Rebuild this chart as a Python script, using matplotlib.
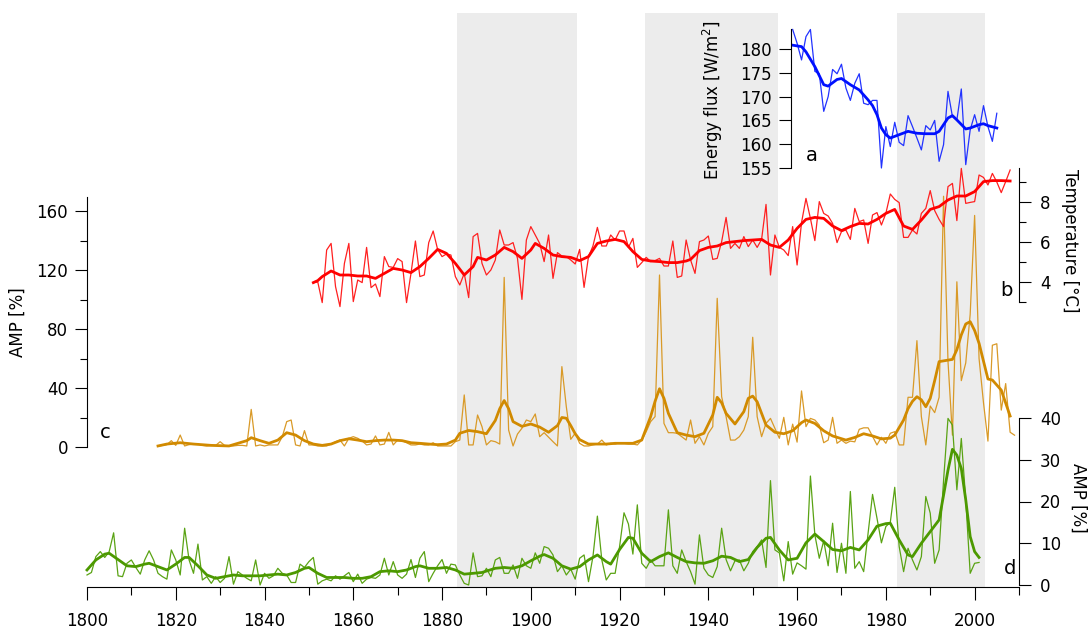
import numpy as np
import matplotlib
matplotlib.use('Agg')
from matplotlib import pyplot as plt
from matplotlib.ticker import MultipleLocator

# (a) energy flux, annual values and smoothed curve
flux_years = np.arange(1959, 2006)
flux = [184.1, 181.2, 177.7, 182.6, 184.1, 175.3, 174.8, 166.9, 170.0, 175.7,
        174.8, 176.8, 171.8, 169.2, 172.8, 174.8, 168.6, 168.3, 169.2, 169.2,
        155.0, 163.7, 159.5, 164.6, 160.4, 159.7, 166.0, 163.7, 161.3, 158.8,
        163.9, 163.0, 165.0, 156.4, 159.9, 171.1, 165.8, 165.1, 171.6, 155.7,
        163.0, 166.2, 162.7, 168.1, 163.7, 160.6, 166.5]
flux_sm_years = [1959, 1961, 1962, 1964, 1966, 1967, 1969, 1970, 1972, 1974,
                 1976, 1977, 1978, 1979, 1980, 1981, 1983, 1985, 1987, 1989,
                 1991, 1992, 1994, 1995, 1996, 1998, 1999, 2001, 2002, 2003, 2005]
flux_sm = [180.8, 180.5, 179.4, 176.3, 172.5, 172.2, 173.6, 173.8, 172.5, 171.4,
           169.3, 168.1, 166.2, 163.4, 162.0, 161.3, 162.0, 162.7, 162.3, 162.2,
           162.2, 162.7, 165.5, 166.0, 165.1, 163.2, 163.4, 164.1, 164.3, 163.9, 163.4]

# (b) temperature
temp_years = np.arange(1851, 2009)
temp = [3.97, 4.0, 2.97, 5.6, 5.93, 3.77, 2.77, 4.93, 5.93, 3.02,
        4.1, 3.97, 5.73, 3.72, 3.9, 3.27, 5.27, 4.77, 4.73, 5.17,
        5.02, 2.97, 4.43, 6.05, 4.27, 4.35, 5.97, 6.55, 5.63, 5.27,
        5.4, 5.35, 4.27, 3.85, 4.43, 3.22, 6.27, 6.43, 4.93, 4.35,
        4.6, 5.1, 6.6, 5.85, 5.85, 5.97, 5.18, 3.13, 6.1, 6.77,
        6.35, 5.93, 5.02, 6.35, 4.18, 5.47, 5.3, 5.27, 5.1, 4.9,
        5.63, 3.73, 5.27, 5.8, 6.73, 5.8, 5.8, 6.35, 6.1, 6.55,
        6.55, 5.73, 6.18, 4.73, 4.97, 5.23, 5.02, 5.07, 5.18, 4.8,
        4.8, 6.05, 4.23, 4.3, 6.1, 5.1, 4.43, 6.02, 6.1, 6.3,
        5.13, 5.18, 6.02, 7.23, 5.68, 5.93, 5.68, 6.27, 5.77, 6.1,
        5.73, 6.13, 7.88, 4.35, 6.35, 5.73, 5.6, 5.32, 6.77, 4.85,
        6.97, 8.18, 7.18, 6.07, 8.02, 7.43, 7.3, 6.93, 5.97, 6.52,
        6.6, 6.13, 7.68, 7.02, 7.1, 5.93, 7.35, 7.47, 6.85, 7.43,
        8.4, 8.13, 7.97, 6.23, 6.23, 6.6, 6.4, 7.43, 7.68, 8.57,
        7.57, 7.13, 6.77, 8.77, 8.93, 7.07, 9.68, 7.93, 7.98, 8.02,
        9.35, 9.23, 8.85, 9.43, 9.0, 8.47, 9.02, 9.6]
temp_sm_years = [1851, 1852, 1853, 1855, 1857, 1859, 1861, 1863, 1865, 1867,
                 1869, 1871, 1873, 1875, 1877, 1879, 1881, 1883, 1885, 1887,
                 1888, 1890, 1892, 1894, 1896, 1898, 1900, 1901, 1903, 1905,
                 1907, 1909, 1911, 1913, 1915, 1917, 1919, 1921, 1923, 1925,
                 1927, 1929, 1931, 1933, 1935, 1936, 1938, 1940, 1942, 1944,
                 1946, 1948, 1950, 1952, 1954, 1956, 1958, 1960, 1962, 1964,
                 1966, 1968, 1970, 1972, 1974, 1976, 1978, 1980, 1982, 1984,
                 1986, 1988, 1990, 1992, 1994, 1996, 1998, 2000, 2002, 2004,
                 2006, 2008]
temp_sm = [3.97, 4.07, 4.27, 4.55, 4.35, 4.35, 4.3, 4.3, 4.18, 4.43,
           4.68, 4.6, 4.47, 4.77, 5.18, 5.63, 5.43, 4.93, 4.35, 4.77,
           5.23, 5.1, 5.35, 5.73, 5.52, 5.18, 5.6, 5.93, 5.68, 5.35,
           5.27, 5.23, 5.07, 5.27, 5.93, 6.05, 6.13, 6.02, 5.52, 5.13,
           5.05, 5.02, 4.97, 4.97, 5.05, 5.13, 5.57, 5.73, 5.8, 5.97,
           6.02, 6.07, 6.1, 6.13, 5.85, 5.73, 6.1, 6.68, 7.13, 7.23,
           7.18, 6.8, 6.57, 6.77, 6.93, 6.9, 7.13, 7.43, 7.63, 6.8,
           6.63, 7.1, 7.63, 7.77, 8.1, 8.3, 8.3, 8.52, 9.02, 9.07,
           9.07, 9.05]

# (c) AMP, left scale
amp_c_years = np.arange(1816, 2010)
amp_c = [0.7, 1.1, 1.6, 4.3, 1.1, 8.1, 0.7, 1.6, 2.0, 2.0,
         1.1, 0.7, 1.1, 1.1, 3.6, 1.1, 0.7, 0.7, 1.1, 1.1,
         0.7, 25.5, 0.7, 1.4, 0.7, 1.4, 1.4, 1.4, 7.0, 17.2,
         18.3, 1.4, 0.7, 11.1, 1.4, 1.4, 0.7, 0.7, 0.7, 2.0,
         3.6, 4.7, 0.7, 5.9, 7.0, 5.9, 4.1, 1.4, 2.0, 7.5,
         1.4, 2.0, 9.9, 1.4, 4.7, 4.3, 2.9, 1.4, 1.4, 2.0,
         1.4, 1.4, 2.9, 0.7, 0.7, 0.7, 0.7, 3.6, 4.7, 35.3,
         1.4, 1.4, 21.7, 13.8, 1.4, 4.3, 3.6, 2.0, 115.0, 11.5,
         0.7, 8.8, 12.7, 18.3, 17.2, 22.4, 7.0, 9.7, 6.6, 3.6,
         0.7, 54.5, 27.3, 5.2, 9.3, 2.5, 0.7, 0.7, 1.4, 2.0,
         4.7, 1.4, 2.5, 2.0, 2.9, 2.5, 2.0, 2.0, 1.4, 4.7,
         10.4, 17.2, 20.6, 116.6, 16.0, 9.7, 9.7, 9.3, 7.0, 4.7,
         18.3, 2.5, 7.0, 1.4, 9.3, 13.8, 100.8, 34.1, 20.6, 4.7,
         4.7, 7.0, 11.5, 20.6, 74.4, 20.6, 7.0, 16.0, 19.4, 12.7,
         5.9, 20.1, 1.4, 15.5, 3.3, 38.0, 13.8, 19.4, 18.3, 14.9,
         2.9, 4.7, 20.1, 2.5, 4.7, 2.5, 4.0, 3.5, 12.0, 13.0,
         13.0, 7.2, 1.4, 6.6, 2.5, 9.3, 10.4, 1.4, 1.4, 33.7,
         33.7, 72.1, 20.6, 1.4, 27.8, 23.3, 33.7, 170.0, 58.0, 8.0,
         112.0, 45.0, 57.0, 90.0, 157.0, 60.0, 30.0, 4.0, 69.0, 70.0,
         25.0, 43.0, 10.0, 8.0]
amp_c_sm_years = [1816, 1818, 1821, 1824, 1828, 1832, 1836, 1837, 1839, 1841,
                  1843, 1845, 1847, 1849, 1851, 1853, 1855, 1857, 1859, 1861,
                  1863, 1865, 1867, 1869, 1871, 1873, 1875, 1877, 1879, 1881,
                  1883, 1884, 1886, 1888, 1890, 1892, 1893, 1894, 1895, 1896,
                  1898, 1900, 1902, 1904, 1906, 1907, 1908, 1909, 1910, 1911,
                  1913, 1915, 1917, 1919, 1921, 1923, 1925, 1927, 1928, 1929,
                  1930, 1931, 1933, 1935, 1937, 1939, 1941, 1942, 1943, 1944,
                  1946, 1948, 1949, 1950, 1951, 1953, 1955, 1957, 1959, 1961,
                  1962, 1964, 1966, 1968, 1971, 1973, 1975, 1977, 1979, 1981,
                  1982, 1984, 1985, 1986, 1987, 1988, 1989, 1990, 1991, 1992,
                  1995, 1996, 1997, 1998, 1999, 2000, 2001, 2003, 2004, 2006,
                  2008]
amp_c_sm = [0.7, 2.0, 2.9, 2.0, 1.1, 0.7, 4.3, 6.3, 4.3, 2.5,
            4.7, 9.7, 8.1, 4.3, 2.0, 1.1, 2.0, 4.3, 5.6, 4.7,
            3.6, 4.3, 4.7, 4.7, 4.3, 2.9, 2.5, 2.0, 1.6, 2.0,
            4.7, 9.3, 11.2, 10.4, 9.0, 18.0, 26.0, 31.5, 26.0, 17.2,
            14.0, 15.6, 13.5, 10.0, 14.5, 20.0, 19.5, 14.5, 9.0, 5.0,
            2.0, 2.0, 2.0, 2.5, 2.5, 2.5, 4.7, 20.6, 31.0, 39.5,
            33.0, 22.8, 9.7, 8.1, 7.0, 9.3, 21.7, 33.7, 30.0, 22.8,
            15.6, 24.0, 33.0, 34.5, 30.7, 14.9, 10.0, 9.0, 11.0, 16.5,
            18.3, 16.0, 11.0, 7.5, 4.7, 6.5, 9.0, 7.5, 5.5, 6.0,
            8.1, 18.3, 26.0, 31.0, 34.1, 32.0, 27.3, 33.0, 45.0, 57.9,
            59.4, 66.0, 76.0, 83.4, 85.0, 79.0, 70.3, 46.1, 45.4, 38.6,
            21.0]

# (d) AMP, right scale
amp_d_years = np.arange(1800, 2002)
amp_d = [2.4, 3.0, 6.8, 8.0, 6.6, 8.0, 12.5, 2.2, 2.0, 5.2,
         6.0, 4.2, 2.6, 6.0, 8.2, 6.0, 2.8, 2.0, 1.4, 8.4,
         6.0, 2.4, 13.6, 6.0, 2.8, 9.8, 1.2, 2.0, 0.4, 2.0,
         0.6, 1.6, 6.8, 0.2, 3.2, 2.4, 1.6, 1.0, 6.0, 0.0,
         2.8, 1.6, 2.2, 4.0, 2.8, 2.4, 0.6, 0.6, 5.0, 4.2,
         5.6, 6.6, 0.2, 1.0, 1.4, 1.0, 2.2, 1.4, 2.2, 3.0,
         0.8, 2.6, 0.4, 1.4, 1.8, 1.6, 2.4, 6.4, 2.4, 5.6,
         2.4, 1.6, 2.6, 6.1, 1.8, 6.4, 8.0, 0.8, 2.8, 4.6,
         6.1, 2.8, 5.0, 4.8, 2.4, 0.4, 0.0, 7.7, 2.0, 2.2,
         4.0, 2.0, 6.0, 6.6, 2.8, 2.8, 4.8, 1.6, 6.4, 4.6,
         4.0, 7.7, 5.2, 9.2, 8.8, 7.2, 3.2, 4.6, 2.4, 3.8,
         1.4, 6.4, 7.2, 0.8, 6.8, 16.5, 6.0, 1.2, 2.8, 2.8,
         9.2, 17.3, 14.6, 7.4, 19.2, 5.2, 4.0, 6.0, 4.6, 4.6,
         4.6, 18.0, 4.6, 2.8, 8.4, 5.6, 3.2, 0.2, 12.0, 4.0,
         2.4, 1.8, 4.4, 13.6, 6.1, 3.4, 5.8, 6.0, 3.4, 5.2,
         8.0, 9.2, 10.8, 4.2, 25.0, 8.4, 7.7, 1.0, 10.4, 2.6,
         5.3, 4.6, 3.8, 26.1, 12.0, 6.4, 10.6, 4.6, 14.8, 3.0,
         10.0, 2.8, 22.4, 4.0, 5.6, 3.2, 12.5, 21.7, 16.0, 10.1,
         14.0, 15.0, 23.4, 9.2, 3.2, 8.8, 6.0, 3.6, 6.8, 21.2,
         17.2, 5.2, 8.4, 25.0, 39.9, 38.3, 22.8, 35.1, 20.4, 2.8,
         5.2, 5.4]
amp_d_sm_years = [1800, 1802, 1804, 1805, 1807, 1809, 1811, 1813, 1814, 1816,
                  1818, 1820, 1822, 1823, 1825, 1827, 1829, 1831, 1833, 1835,
                  1837, 1839, 1841, 1843, 1845, 1847, 1849, 1850, 1852, 1854,
                  1856, 1858, 1860, 1862, 1864, 1866, 1868, 1870, 1872, 1874,
                  1875, 1877, 1879, 1881, 1883, 1885, 1887, 1889, 1892, 1894,
                  1896, 1898, 1900, 1902, 1903, 1905, 1907, 1909, 1911, 1913,
                  1915, 1917, 1918, 1920, 1922, 1923, 1925, 1927, 1929, 1931,
                  1933, 1935, 1937, 1939, 1941, 1943, 1945, 1947, 1949, 1951,
                  1953, 1954, 1956, 1958, 1960, 1962, 1964, 1966, 1968, 1970,
                  1972, 1974, 1976, 1978, 1980, 1981, 1983, 1985, 1986, 1988,
                  1990, 1992, 1993, 1994, 1995, 1996, 1997, 1998, 1999, 2000,
                  2001]
amp_d_sm = [3.6, 6.0, 7.4, 7.6, 6.1, 4.6, 4.4, 5.0, 5.2, 4.4,
            3.6, 5.0, 6.6, 6.6, 4.6, 2.4, 1.6, 2.0, 2.4, 2.2,
            2.2, 2.2, 2.4, 2.6, 2.4, 3.0, 4.0, 4.2, 2.8, 1.8,
            1.8, 1.8, 1.6, 1.6, 2.0, 3.2, 3.4, 3.2, 3.6, 4.4,
            4.6, 4.0, 4.0, 4.2, 3.6, 2.6, 2.8, 3.0, 4.0, 4.2,
            4.0, 4.6, 5.8, 6.9, 7.3, 6.4, 4.6, 3.8, 4.4, 6.0,
            7.2, 5.6, 5.0, 8.5, 11.4, 11.2, 7.6, 5.6, 6.8, 7.7,
            6.6, 5.6, 5.3, 5.2, 5.8, 6.9, 6.6, 5.6, 6.1, 9.0,
            11.2, 11.4, 8.4, 6.0, 6.4, 10.1, 12.2, 10.4, 8.5, 8.2,
            9.0, 8.4, 10.8, 14.1, 14.7, 14.8, 10.8, 7.2, 6.8, 10.0,
            12.8, 15.6, 21.5, 27.5, 32.5, 31.1, 27.9, 20.4, 11.6, 8.0,
            6.6]

# shaded periods
periods = [(1883.3, 1910.3), (1925.7, 1955.7), (1982.6, 2002.4)]

W, H = 1088, 628
fig = plt.figure(figsize=(W / 100, H / 100), dpi=100)


def fx(x):
    return x / W


def fy(y):
    return 1 - y / H


def panel(ytop, ybot, x0=87, x1=1019):
    ax = fig.add_axes([fx(x0), fy(ybot), (x1 - x0) / W, (ybot - ytop) / H])
    ax.set_xlim(1800, 2010)
    ax.patch.set_visible(False)
    for s in ax.spines.values():
        s.set_visible(False)
        s.set_linewidth(0.8)
    ax.tick_params(bottom=False, labelbottom=False, left=False, labelleft=False)
    return ax


def yaxis_style(ax, side, pad):
    ax.spines[side].set_visible(True)
    ax.yaxis.set_ticks_position(side)
    kw = {'left': side == 'left', 'labelleft': side == 'left',
          'right': side == 'right', 'labelright': side == 'right'}
    ax.tick_params(axis='y', which='major', direction='out', length=8.5,
                   width=0.8, labelsize=12, pad=pad, **kw)
    ax.tick_params(axis='y', which='minor', direction='out', length=5,
                   width=0.8, **kw)


# base axes: shading and year axis
base = panel(13, 587)
for p0, p1 in periods:
    base.axvspan(p0, p1, color='#ececec', lw=0, zorder=0)
base.set_ylim(0, 1)
base.spines['bottom'].set_visible(True)
base.xaxis.set_major_locator(MultipleLocator(20))
base.xaxis.set_minor_locator(MultipleLocator(10))
base.tick_params(axis='x', which='major', bottom=True, labelbottom=True,
                 length=9.4, width=0.8, labelsize=12, pad=8.5)
base.tick_params(axis='x', which='minor', bottom=True, length=5.8, width=0.8)

# (c) AMP left
ax_c = panel(197, 447)
ax_c.set_ylim(0, 169.5)
yaxis_style(ax_c, 'left', 5)
ax_c.yaxis.set_major_locator(MultipleLocator(40))
ax_c.yaxis.set_minor_locator(MultipleLocator(20))
ax_c.plot(amp_c_years, amp_c, color='#d99a28', lw=0.9, clip_on=False)
ax_c.plot(amp_c_sm_years, amp_c_sm, color='#d18a00', lw=2.0, clip_on=False,
          solid_joinstyle='round')

# (d) AMP right
ax_d = panel(418, 585)
ax_d.set_ylim(0, 40)
yaxis_style(ax_d, 'right', 6.5)
ax_d.yaxis.set_major_locator(MultipleLocator(10))
ax_d.plot(amp_d_years, amp_d, color='#5aa314', lw=0.9, clip_on=False)
ax_d.plot(amp_d_sm_years, amp_d_sm, color='#4c9900', lw=2.0, clip_on=False,
          solid_joinstyle='round')

# (b) temperature
ax_b = panel(168, 302)
ax_b.set_ylim(3, 9.7)
yaxis_style(ax_b, 'right', 6.5)
ax_b.yaxis.set_major_locator(MultipleLocator(2))
ax_b.yaxis.set_minor_locator(MultipleLocator(1))
ax_b.plot(temp_years, temp, color='#ff2020', lw=0.9, clip_on=False)
ax_b.plot(temp_sm_years, temp_sm, color='#ff0000', lw=2.0, clip_on=False,
          solid_joinstyle='round')

# (a) energy flux inset
ax_a = panel(29, 168)
ax_a.set_ylim(155, 184.2)
yaxis_style(ax_a, 'left', 5)
ax_a.spines['left'].set_position(('data', 1958.6))
ax_a.set_yticks(np.arange(155, 181, 5))
ax_a.plot(flux_years, flux, color='#2233ff', lw=0.9, clip_on=False)
ax_a.plot(flux_sm_years, flux_sm, color='#0010ff', lw=2.0, clip_on=False,
          solid_joinstyle='round')

# axis titles and panel letters
fig.text(fx(18), fy(322), 'AMP [%]', rotation=90, fontsize=12,
         ha='center', va='center')
fig.text(fx(1078), fy(498), 'AMP [%]', rotation=270, fontsize=12,
         ha='center', va='center')
fig.text(fx(1070), fy(241), 'Temperature [°C]', rotation=270, fontsize=12,
         ha='center', va='center')
fig.text(fx(713), fy(100), 'Energy flux [W/m$^2$]', rotation=90, fontsize=12,
         ha='center', va='center')
for lab, x, y in [('a', 812, 156), ('b', 1006, 290), ('c', 105, 432), ('d', 1010, 569)]:
    fig.text(fx(x), fy(y), lab, fontsize=14, ha='center', va='center')

fig.savefig('out.png', dpi=100)
